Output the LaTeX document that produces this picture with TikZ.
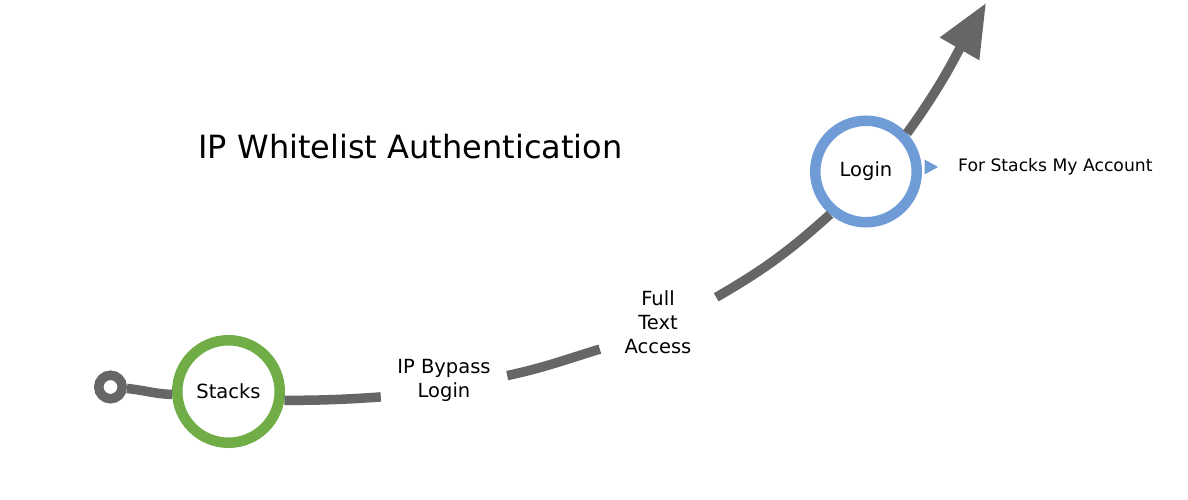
\documentclass[tikz,border=0pt]{standalone}
\usepackage{fontspec}
\setmainfont{DejaVu Sans}
\usetikzlibrary{arrows.meta}
\definecolor{lineGray}{RGB}{102,102,102}
\definecolor{stacksGreen}{RGB}{112,173,71}
\definecolor{loginBlue}{RGB}{111,155,214}
\begin{document}
\begin{tikzpicture}[x=1pt,y=1pt,
  flow/.style={draw=lineGray, line width=9.5pt},
  ring/.style={circle, draw, line width=10.5pt, fill=white, inner sep=0pt, font=\fontsize{19.5}{24}\selectfont},
  lbl/.style={align=center, inner sep=0pt, font=\fontsize{19.5}{24}\selectfont}]
\path[use as bounding box, fill=white] (0,0) rectangle (1188,500);

\node[draw=lineGray, line width=9.5pt, circle, minimum size=23.5pt, inner sep=0pt, fill=white] (start) at (110.5,113) {};
\node[ring, draw=stacksGreen, minimum size=102.5pt] (stacks) at (228.5,108.5) {Stacks};
\node[ring, draw=loginBlue, minimum size=101.5pt] (login) at (866,328.5) {Login};
\node[lbl, minimum width=126pt, minimum height=60pt] (bypass) at (444,120) {IP Bypass\\Login};
\node[lbl, minimum width=116pt, minimum height=80pt] (fulltext) at (658,178) {Full\\Text\\Access};
\coordinate (tip) at (986,497);
\node[font=\fontsize{32}{36}\selectfont] (title) at (410.5,353) {IP Whitelist Authentication};
\node[anchor=west, inner sep=0pt, font=\fontsize{17.2}{20}\selectfont] (account) at (958,333) {For Stacks My Account};
\fill[loginBlue] (924.5,325.5) -- (938,333) -- (924.5,340.5) -- cycle;

\draw[flow] (start.-5) to[out=-6, in=178] (stacks.183);
\draw[flow] (stacks.-9.5) to[out=0, in=184] (bypass.195);
\draw[flow] (bypass.4.5) to[out=12, in=197] (fulltext.205);
\draw[flow] (fulltext.23) to[out=30, in=222] (login.230);
\draw[flow, -{Triangle[length=53pt, width=43pt]}] (login.43) to[out=54, in=240] (tip);
\end{tikzpicture}
\end{document}
